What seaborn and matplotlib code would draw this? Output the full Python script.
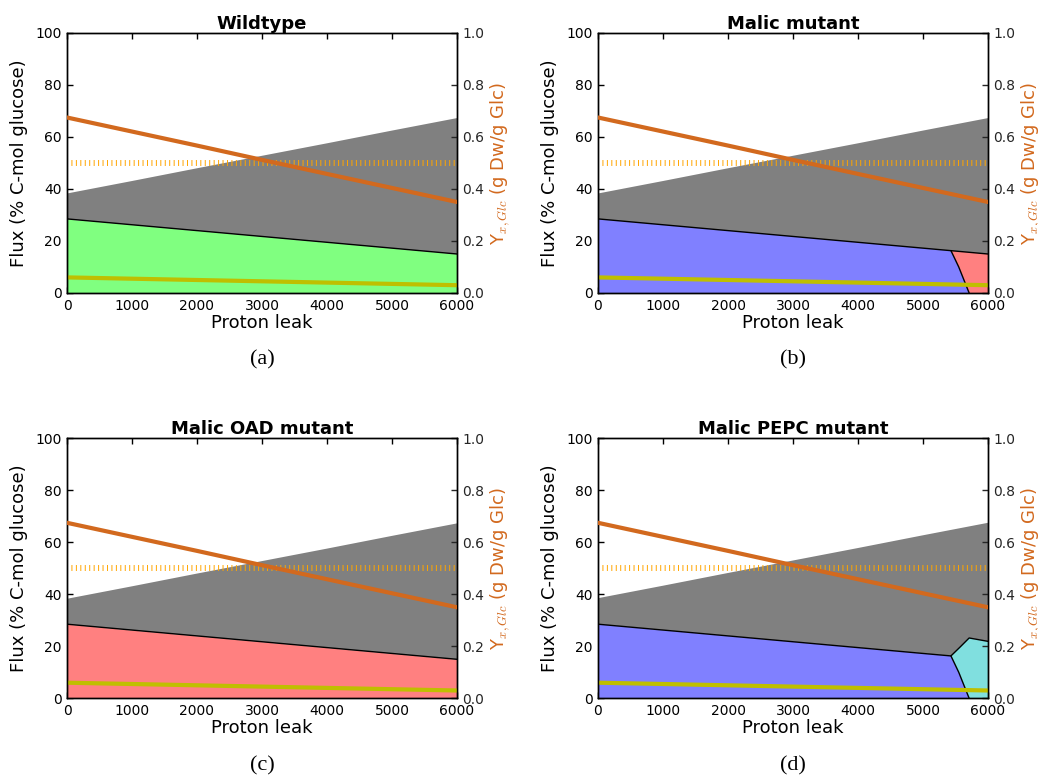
import numpy as np
import matplotlib
matplotlib.use("Agg")
import matplotlib.pyplot as plt
import seaborn as sns

# Proton leak sweep and the flux envelope shared by all strains
leak = [0, 1000, 2000, 3000, 4000, 5000, 6000]
flux_upper = [38.5, 43.3, 48.2, 53.0, 57.8, 62.7, 67.5]
flux_biomass = [28.5, 26.25, 24.0, 21.75, 19.5, 17.25, 15.0]
flux_minor = [6.0, 5.5, 5.0, 4.5, 4.0, 3.5, 3.0]
biomass_yield = [0.675, 0.621, 0.567, 0.512, 0.458, 0.404, 0.35]
yield_ref = 0.5

# Switch-over boundary in the mutants at high proton leak
switch_leak = [5430, 5550, 5710]
switch_flux = [16.3, 10.0, 0.0]
# Upper edge of the PEPC branch in the Malic PEPC mutant
pepc_leak = [5430, 5570, 5710, 6000]
pepc_flux = [16.3, 19.7, 23.2, 21.9]

titles = ["Wildtype", "Malic mutant", "Malic OAD mutant", "Malic PEPC mutant"]
captions = ["(a)", "(b)", "(c)", "(d)"]
x_ticks = [0, 1000, 2000, 3000, 4000, 5000, 6000]
y_ticks = [0, 20, 40, 60, 80, 100]
y2_ticks = [0.0, 0.2, 0.4, 0.6, 0.8, 1.0]

GRAY = "#808080"
GREEN = "#80ff80"
BLUE = "#8080ff"
RED = "#ff8080"
CYAN = "#80dfdf"
CHOC = "#d2691e"
OLIVE = "#bfbf00"
ORANGE = "#ffa500"

sns.set_style("ticks")
plt.rcParams.update({
    "font.family": ["DejaVu Sans"],
    "mathtext.fontset": "cm",
    "lines.scale_dashes": False,
    "axes.edgecolor": "black",
    "axes.linewidth": 1.0,
    "text.color": "black",
    "axes.labelcolor": "black",
})

fig = plt.figure(figsize=(10.38, 7.78), dpi=100)
W, H = 1038.0, 778.0
lefts = [67, 598, 67, 598]
bottoms = [293, 293, 698.3, 698.3]
aw, ah = 390, 260


def style_axes(ax, ax2):
    ax.set_xlim(0, 6000)
    ax.set_ylim(0, 100)
    ax.set_xticks(x_ticks)
    ax.set_yticks(y_ticks)
    ax.tick_params(axis="both", direction="in", length=4, width=1, labelsize=10,
                   pad=4, top=True, right=False, colors="black")
    ax.set_xlabel("Proton leak", fontsize=13, labelpad=1)
    ax.set_ylabel("Flux (% C-mol glucose)", fontsize=13, labelpad=5)
    ax2.set_ylim(0, 1)
    ax2.set_yticks(y2_ticks)
    ax2.set_yticklabels([f"{v:.1f}" for v in y2_ticks])
    ax2.tick_params(axis="y", direction="in", length=4, width=1, labelsize=10, pad=4)
    ax2.set_ylabel(r"Y$_{x,Glc}$ (g Dw/g Glc)", fontsize=13, color=CHOC, labelpad=3)
    for sp in list(ax.spines.values()) + list(ax2.spines.values()):
        sp.set_visible(True)
        sp.set_color("black")
        sp.set_linewidth(1.0)


def biomass_until(x_stop):
    xs = [x for x in leak if x < x_stop]
    ys = [flux_biomass[leak.index(x)] for x in xs]
    return xs, ys


for i in range(4):
    ax = fig.add_axes([lefts[i] / W, 1 - bottoms[i] / H, aw / W, ah / H])
    ax2 = ax.twinx()

    if i in (0, 2):
        colour = GREEN if i == 0 else RED
        ax.fill_between(leak, flux_biomass, flux_upper, color=GRAY, lw=0, zorder=1)
        ax.fill_between(leak, 0, flux_biomass, color=colour, lw=0, zorder=1)
        sns.lineplot(x=leak, y=flux_biomass, ax=ax, color="black", linewidth=1, zorder=2)
    elif i == 1:
        ax.fill_between(leak, flux_biomass, flux_upper, color=GRAY, lw=0, zorder=1)
        bx, by = biomass_until(switch_leak[0])
        blue_x = bx + switch_leak + [0]
        blue_y = by + switch_flux + [0]
        ax.fill(blue_x, blue_y, color=BLUE, lw=0, zorder=1)
        red_x = switch_leak + [6000, 6000]
        red_y = switch_flux + [0, flux_biomass[-1]]
        ax.fill(red_x, red_y, color=RED, lw=0, zorder=1)
        sns.lineplot(x=leak, y=flux_biomass, ax=ax, color="black", linewidth=1, zorder=2)
        ax.plot(switch_leak, switch_flux, color="black", lw=1, zorder=2)
    else:
        bx, by = biomass_until(switch_leak[0])
        gray_x = leak + [6000] + pepc_leak[::-1] + bx[::-1]
        gray_y = flux_upper + [pepc_flux[-1]] + pepc_flux[::-1] + by[::-1]
        ax.fill(gray_x, gray_y, color=GRAY, lw=0, zorder=1)
        blue_x = bx + switch_leak + [0]
        blue_y = by + switch_flux + [0]
        ax.fill(blue_x, blue_y, color=BLUE, lw=0, zorder=1)
        cyan_x = switch_leak + [6000] + pepc_leak[::-1]
        cyan_y = switch_flux + [0] + pepc_flux[::-1]
        ax.fill(cyan_x, cyan_y, color=CYAN, lw=0, zorder=1)
        ax.plot(bx + pepc_leak, by + pepc_flux, color="black", lw=1, zorder=2)
        ax.plot(switch_leak, switch_flux, color="black", lw=1, zorder=2)

    sns.lineplot(x=leak, y=flux_minor, ax=ax, color=OLIVE, linewidth=3, zorder=3)
    sns.lineplot(x=leak, y=biomass_yield, ax=ax2, color=CHOC, linewidth=3, zorder=3)
    ax2.axhline(yield_ref, color=ORANGE, lw=4.3, linestyle=(0, (0.7, 2.5)),
                dash_capstyle="butt", zorder=2)

    style_axes(ax, ax2)
    ax.set_title(titles[i], fontsize=13, fontweight="bold", pad=3)

    cx = (lefts[i] + aw / 2) / W
    cy = 1 - (360 if i < 2 else 766) / H
    fig.text(cx, cy, captions[i], ha="center", va="center",
             fontsize=16, family=["Liberation Serif", "DejaVu Serif"])

fig.savefig("out.png", dpi=100)
